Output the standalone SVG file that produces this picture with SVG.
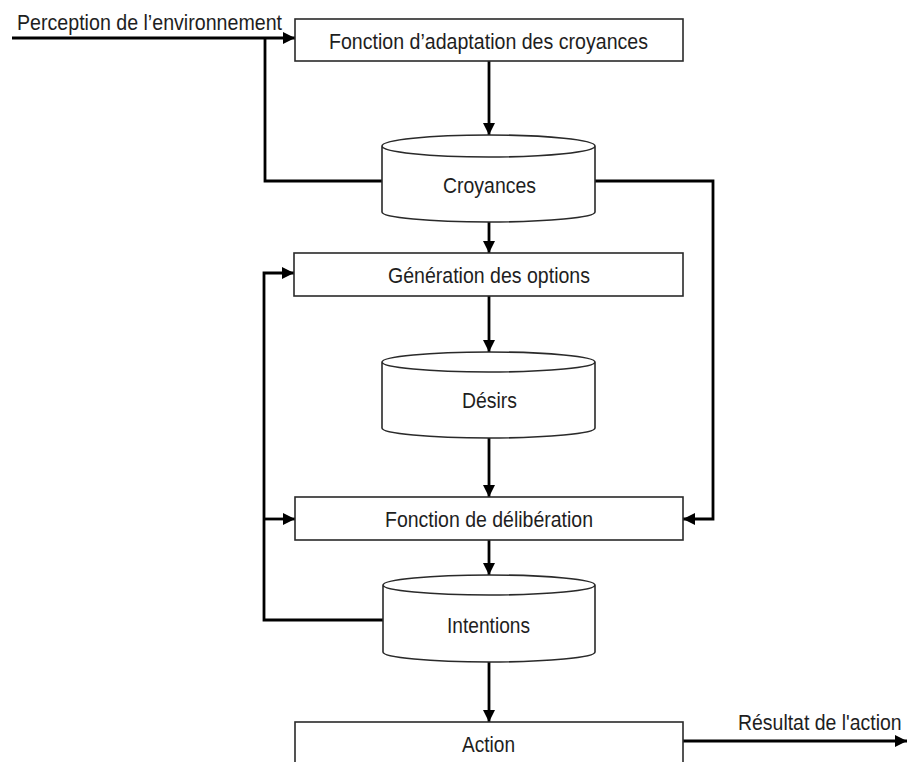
<svg xmlns="http://www.w3.org/2000/svg" width="909" height="762" viewBox="0 0 909 762">
  <style>
    .box { fill: #ffffff; stroke: #2a2a2a; stroke-width: 1.6; }
    .wire { fill: none; stroke: #000000; stroke-width: 2.8; stroke-linejoin: miter; }
    .lbl { font-family: "Liberation Sans", Arial, sans-serif; font-size: 22.5px; fill: #1e1e1e; }
  </style>
  <defs>
    <marker id="arrow" viewBox="0 0 12 12" refX="12" refY="6" markerWidth="12" markerHeight="12" markerUnits="userSpaceOnUse" orient="auto">
      <path d="M0,0 L12,6 L0,12 Z" fill="#000000"/>
    </marker>
  </defs>
  <rect width="909" height="762" fill="#ffffff"/>

  <!-- connectors -->
  <g id="connectors">
    <path class="wire" d="M12,38 H295" marker-end="url(#arrow)"/>
    <path class="wire" d="M265,38 V181 H383"/>
    <path class="wire" d="M489,61 V135" marker-end="url(#arrow)"/>
    <path class="wire" d="M489,222 V253" marker-end="url(#arrow)"/>
    <path class="wire" d="M489,296 V352" marker-end="url(#arrow)"/>
    <path class="wire" d="M489,438 V497" marker-end="url(#arrow)"/>
    <path class="wire" d="M595,181 H713 V519 H683" marker-end="url(#arrow)"/>
    <path class="wire" d="M489,540 V575" marker-end="url(#arrow)"/>
    <path class="wire" d="M383,620 H264 V273 H294" marker-end="url(#arrow)"/>
    <path class="wire" d="M264,519 H295" marker-end="url(#arrow)"/>
    <path class="wire" d="M489,662 V722" marker-end="url(#arrow)"/>
    <path class="wire" d="M683,741 H907" marker-end="url(#arrow)"/>
  </g>

  <!-- free labels on the input and output flows -->
  <text class="lbl" x="17" y="30" textLength="265" lengthAdjust="spacingAndGlyphs">Perception de l’environnement</text>
  <text class="lbl" transform="translate(738,730) scale(0.865,1)">Résultat de l'action</text>

  <g id="adaptation">
    <rect class="box" x="295" y="19" width="388" height="42"/>
    <text class="lbl" x="329" y="49" textLength="319" lengthAdjust="spacingAndGlyphs">Fonction d’adaptation des croyances</text>
  </g>

  <g id="croyances">
    <path class="box" d="M382,146 V212 A106.5,10 0 0 0 595,212 V146 A106.5,11 0 0 0 382,146 A106.5,11 0 0 0 595,146"/>
    <text class="lbl" x="443" y="193" textLength="93" lengthAdjust="spacingAndGlyphs">Croyances</text>
  </g>

  <g id="generation">
    <rect class="box" x="294" y="253" width="389" height="43"/>
    <text class="lbl" x="388" y="283" textLength="202" lengthAdjust="spacingAndGlyphs">Génération des options</text>
  </g>

  <g id="desirs">
    <path class="box" d="M382,362 V428 A106.5,10 0 0 0 595,428 V362 A106.5,10 0 0 0 382,362 A106.5,10 0 0 0 595,362"/>
    <text class="lbl" x="462" y="408" textLength="55" lengthAdjust="spacingAndGlyphs">Désirs</text>
  </g>

  <g id="deliberation">
    <rect class="box" x="295" y="497" width="388" height="43"/>
    <text class="lbl" x="385" y="527" textLength="208" lengthAdjust="spacingAndGlyphs">Fonction de délibération</text>
  </g>

  <g id="intentions">
    <path class="box" d="M383,585 V652 A106,10 0 0 0 595,652 V585 A106,10 0 0 0 383,585 A106,10 0 0 0 595,585"/>
    <text class="lbl" x="447" y="633" textLength="83" lengthAdjust="spacingAndGlyphs">Intentions</text>
  </g>

  <g id="action">
    <rect class="box" x="295" y="722" width="388" height="44"/>
    <text class="lbl" x="462" y="752" textLength="53" lengthAdjust="spacingAndGlyphs">Action</text>
  </g>
</svg>
